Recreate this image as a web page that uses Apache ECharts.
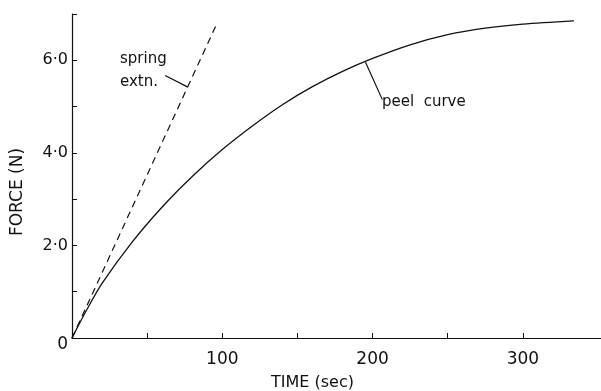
<!DOCTYPE html>
<html>
<head>
<meta charset="utf-8">
<script src="https://cdn.jsdelivr.net/npm/echarts@6/dist/echarts.min.js"></script>
<style>html,body{margin:0;padding:0;background:#fff}#c{width:601px;height:391px}</style>
</head>
<body>
<div id="c"></div>
<script>
// Data
var peelTime  = [0, 10, 20, 40, 60, 80, 100, 120, 140, 160, 180, 200, 225, 250, 275, 300, 334];
var peelForce = [0, 0.62, 1.18, 2.07, 2.83, 3.49, 4.07, 4.58, 5.04, 5.43, 5.76, 6.04, 6.335, 6.555, 6.695, 6.78, 6.85];
var springTime  = [0, 96.5];
var springForce = [0, 6.8];
var springLeader = [[62, 5.67], [77.1, 5.42]];
var peelLeader   = [[195.3, 5.96], [206.5, 5.15]];
var xTickValues  = [50, 100, 150, 200, 250, 300];
var xLabelValues = [100, 200, 300];
var yTickValues  = [1, 2, 3, 4, 5, 6, 7];
var yLabelValues = [0, 2, 4, 6];
var yLabelText   = {0: '0', 2: '2·0', 4: '4·0', 6: '6·0'};

function pairs(xs, ys) { return xs.map(function (x, i) { return [x, ys[i]]; }); }

var FONT = 'DejaVu Sans';
var chart = echarts.init(document.getElementById('c'));
chart.setOption({
  animation: false,
  backgroundColor: '#fff',
  grid: { left: 72, right: 0, top: 14, bottom: 53, containLabel: false, outerBoundsMode: 'none' },
  xAxis: {
    type: 'value', min: 0, max: 352,
    name: 'TIME (sec)', nameLocation: 'middle', nameGap: 37,
    nameTextStyle: { fontFamily: FONT, fontSize: 16, color: '#111', padding: [0, 48, 0, 0] },
    axisLine: { show: true, lineStyle: { color: '#111', width: 1.2 } },
    axisTick: { show: true, inside: true, length: 5, customValues: xTickValues, lineStyle: { color: '#111', width: 1 } },
    axisLabel: { customValues: xLabelValues, fontFamily: FONT, fontSize: 17, color: '#111', margin: 13 },
    splitLine: { show: false }
  },
  yAxis: {
    type: 'value', min: 0, max: 7,
    name: 'FORCE (N)', nameLocation: 'middle', nameGap: 46, nameRotate: 90,
    nameTextStyle: { fontFamily: FONT, fontSize: 17, color: '#111', padding: [0, 32, 0, 0] },
    axisLine: { show: true, lineStyle: { color: '#111', width: 1.2 } },
    axisTick: { show: true, inside: true, length: 5, customValues: yTickValues, lineStyle: { color: '#111', width: 1 } },
    axisLabel: {
      customValues: yLabelValues, fontFamily: FONT, fontSize: 16, color: '#111', margin: 4,
      formatter: function (v) { return v === 0 ? '{z|0}' : yLabelText[v]; },
      rich: { z: { fontFamily: FONT, fontSize: 17, color: '#111', padding: [14, 0, 0, 0] } }
    },
    splitLine: { show: false }
  },
  series: [
    { type: 'line', data: pairs(peelTime, peelForce), smooth: 0.3, showSymbol: false,
      lineStyle: { color: '#111', width: 1.3 } },
    { type: 'line', data: pairs(springTime, springForce), showSymbol: false,
      lineStyle: { color: '#111', width: 1.2, type: [7, 5] } },
    { type: 'line', data: springLeader, showSymbol: false, lineStyle: { color: '#111', width: 1.2 } },
    { type: 'line', data: peelLeader, showSymbol: false, lineStyle: { color: '#111', width: 1.2 } }
  ],
  graphic: [
    { type: 'text', left: 120, top: 52, style: { text: 'spring', font: '15px "DejaVu Sans"', fill: '#111' } },
    { type: 'text', left: 120, top: 75, style: { text: 'extn.', font: '15px "DejaVu Sans"', fill: '#111' } },
    { type: 'text', left: 382, top: 95, style: { text: 'peel  curve', font: '15px "DejaVu Sans"', fill: '#111' } }
  ]
});
</script>
</body>
</html>
